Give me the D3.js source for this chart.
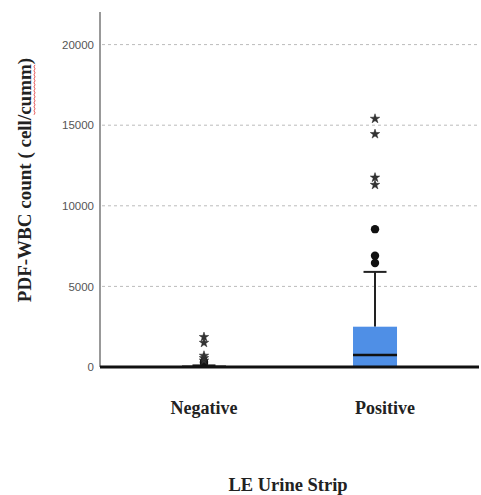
<!DOCTYPE html>
<html>
<head>
<meta charset="utf-8">
<script src="https://cdn.jsdelivr.net/npm/d3@7"></script>
<style>
  body { margin: 0; background: #fff; }
  .tick text { font-family: "Liberation Sans", Arial, sans-serif; font-size: 11.5px; fill: #555; }
  .lbl { font-family: "Liberation Serif", "Times New Roman", serif; font-weight: bold; fill: #222; }
</style>
</head>
<body>
<div class="container"></div>
<script>
var categories = ["Negative", "Positive"]
// box stats per group: q1, median, q3, whisker low, whisker high
var q1Values = [0, 0]
var medianValues = [10, 750]
var q3Values = [40, 2500]
var whiskerLow = [0, 0]
var whiskerHigh = [100, 5900]
// outliers: circles and extremes (stars)
var circleOutliers = [[250, 330], [6450, 6900, 8550]]
var starOutliers = [[400, 550, 700, 1500, 1860], [11300, 11750, 14450, 15400]]
var yTicks = [0, 5000, 10000, 15000, 20000]

var width = 481, height = 495
var margin = { top: 12, right: 2, bottom: 128, left: 100 }

var svg = d3.select(".container").append("svg")
    .attr("width", width)
    .attr("height", height)

var x = d3.scalePoint()
    .domain(categories)
    .range([margin.left, width - margin.right])
    .padding(0.608)

var y = d3.scaleLinear()
    .domain([0, 22000])
    .range([367, 367 - 22000 * 80.6 / 5000])

// gridlines
svg.append("g")
  .selectAll("line")
  .data(yTicks.filter(function (d) { return d > 0 }))
  .enter().append("line")
  .attr("x1", margin.left + 2).attr("x2", 477)
  .attr("y1", function (d) { return y(d) }).attr("y2", function (d) { return y(d) })
  .attr("stroke", "#bbb")
  .attr("stroke-width", 1)
  .attr("stroke-dasharray", "3,3")

// y axis
var yAxis = svg.append("g")
    .attr("transform", "translate(" + margin.left + ",0)")
    .call(d3.axisLeft(y).tickValues(yTicks).tickSize(0).tickPadding(6).tickFormat(d3.format("d")))
yAxis.select(".domain").remove()
svg.append("line")
  .attr("x1", margin.left).attr("x2", margin.left)
  .attr("y1", 12).attr("y2", 367)
  .attr("stroke", "#999").attr("stroke-width", 2)

var boxW = 44, capW = 23

var groups = svg.append("g")
  .selectAll("g")
  .data(categories)
  .enter().append("g")

// whiskers
groups.append("line")
  .attr("x1", function (d) { return x(d) }).attr("x2", function (d) { return x(d) })
  .attr("y1", function (d, i) { return y(whiskerHigh[i]) })
  .attr("y2", function (d, i) { return y(q3Values[i]) })
  .attr("stroke", "#222").attr("stroke-width", 2)
groups.append("line")
  .attr("x1", function (d) { return x(d) - capW / 2 }).attr("x2", function (d) { return x(d) + capW / 2 })
  .attr("y1", function (d, i) { return y(whiskerHigh[i]) })
  .attr("y2", function (d, i) { return y(whiskerHigh[i]) })
  .attr("stroke", "#222").attr("stroke-width", 2)

// boxes
groups.append("rect")
  .attr("x", function (d) { return x(d) - boxW / 2 })
  .attr("width", boxW)
  .attr("y", function (d, i) { return y(q3Values[i]) })
  .attr("height", function (d, i) { return y(q1Values[i]) - y(q3Values[i]) })
  .attr("fill", "#4f8fe6")
groups.append("line")
  .attr("x1", function (d) { return x(d) - boxW / 2 }).attr("x2", function (d) { return x(d) + boxW / 2 })
  .attr("y1", function (d, i) { return y(medianValues[i]) })
  .attr("y2", function (d, i) { return y(medianValues[i]) })
  .attr("stroke", "#111").attr("stroke-width", 2.5)

// circle outliers
groups.selectAll("circle")
  .data(function (d, i) { return circleOutliers[i].map(function (v) { return { c: d, v: v } }) })
  .enter().append("circle")
  .attr("cx", function (d) { return x(d.c) })
  .attr("cy", function (d) { return y(d.v) })
  .attr("r", 4.2)
  .attr("fill", "#111")

// star outliers
var star = d3.symbol().type(d3.symbolStar).size(28)
groups.selectAll(".star")
  .data(function (d, i) { return starOutliers[i].map(function (v) { return { c: d, v: v } }) })
  .enter().append("path")
  .attr("class", "star")
  .attr("d", star)
  .attr("transform", function (d) { return "translate(" + x(d.c) + "," + y(d.v) + ")" })
  .attr("fill", "#333")
  .attr("stroke", "#222")
  .attr("stroke-width", 0.5)

// baseline
svg.append("line")
  .attr("x1", margin.left).attr("x2", 479)
  .attr("y1", y(0)).attr("y2", y(0))
  .attr("stroke", "#111").attr("stroke-width", 3)

// category labels
svg.append("g")
  .selectAll("text")
  .data(categories)
  .enter().append("text")
  .attr("class", "lbl")
  .attr("x", function (d, i) { return x(d) + (i == 1 ? 10 : 0) })
  .attr("y", 414)
  .attr("text-anchor", "middle")
  .style("font-size", "18px")
  .text(function (d) { return d })

// axis titles
svg.append("text")
  .attr("class", "lbl")
  .attr("x", 288).attr("y", 491)
  .attr("text-anchor", "middle")
  .style("font-size", "18.5px")
  .text("LE Urine Strip")

var titleText = "PDF-WBC count ( cell/cumm)"
var yTitle = svg.append("g")
  .attr("transform", "translate(31,180) rotate(-90)")
var t = yTitle.append("text")
  .attr("class", "lbl")
  .attr("text-anchor", "middle")
  .style("font-size", "19px")
  .text(titleText)

// red spell-check squiggle under "cumm"
var total = t.node().getComputedTextLength()
var idx = titleText.indexOf("cumm")
var s0 = -total / 2 + t.node().getSubStringLength(0, idx)
var s1 = s0 + t.node().getSubStringLength(idx, 4)
var pts = []
for (var k = 0, px = s0; px <= s1; px += 2, k++) pts.push([px, 3 + (k % 2 ? 1 : 0)])
yTitle.append("path")
  .attr("d", d3.line()(pts))
  .attr("fill", "none")
  .attr("stroke", "#e03030")
  .attr("stroke-width", 0.8)
</script>
</body>
</html>
